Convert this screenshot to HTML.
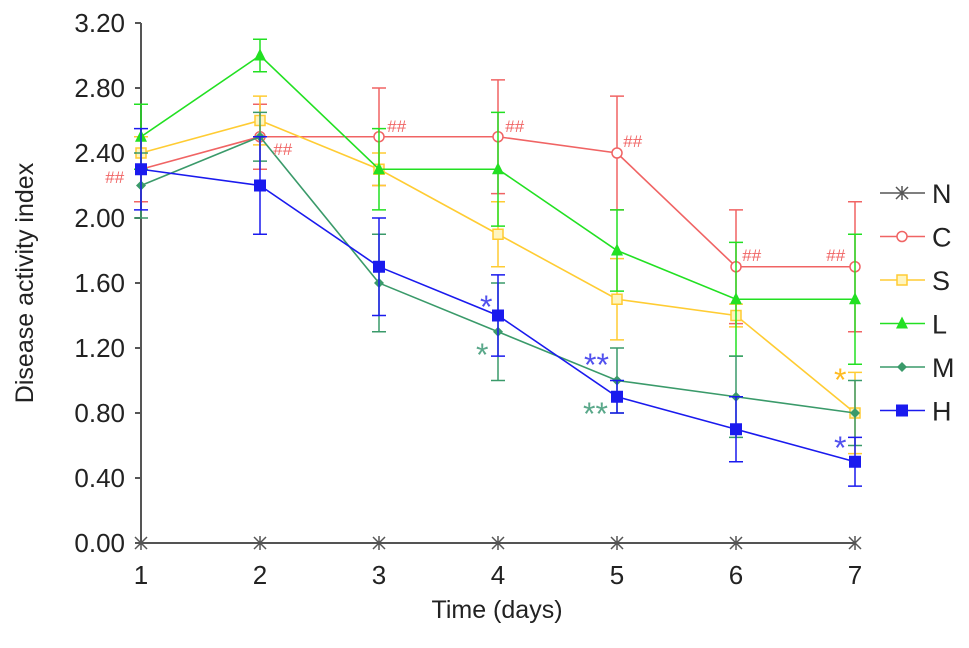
<!DOCTYPE html>
<html><head><meta charset="utf-8"><style>
body{margin:0;background:#fff;font-family:"Liberation Sans",sans-serif}
svg text{font-family:"Liberation Sans",sans-serif}
</style></head><body>
<svg id="chart" width="969" height="643" xmlns="http://www.w3.org/2000/svg"></svg>
<script>
const days = [1,2,3,4,5,6,7];
const yTicks = ["0.00","0.40","0.80","1.20","1.60","2.00","2.40","2.80","3.20"];
const valsN = [0,0,0,0,0,0,0];
const errN = [0,0,0,0,0,0,0];
const valsC = [2.3,2.5,2.5,2.5,2.4,1.7,1.7];
const errC = [0.2,0.2,0.3,0.35,0.35,0.35,0.4];
const valsS = [2.4,2.6,2.3,1.9,1.5,1.4,0.8];
const errS = [0.1,0.15,0.1,0.2,0.25,0.07,0.25];
const valsL = [2.5,3.0,2.3,2.3,1.8,1.5,1.5];
const errL = [0.2,0.1,0.25,0.35,0.25,0.35,0.4];
const valsM = [2.2,2.5,1.6,1.3,1.0,0.9,0.8];
const errM = [0.2,0.15,0.3,0.3,0.2,0.25,0.2];
const valsH = [2.3,2.2,1.7,1.4,0.9,0.7,0.5];
const errH = [0.25,0.3,0.3,0.25,0.1,0.2,0.15];

const NS="http://www.w3.org/2000/svg";
const svg=document.getElementById('chart');
const X0=141, XS=119, Y0=543, YS=162.5;
const xs=d=>X0+(d-1)*XS;
const ys=v=>Y0-v*YS;
function mk(tag,attrs,parent){const e=document.createElementNS(NS,tag);for(const k in attrs)e.setAttribute(k,attrs[k]);(parent||svg).appendChild(e);return e;}

let ax=mk('line',{x1:X0,y1:ys(3.2),x2:X0,y2:Y0,stroke:'#555','stroke-width':2});


let axx=mk('line',{x1:X0,y1:Y0,x2:xs(7),y2:Y0,stroke:'#555','stroke-width':2});


yTicks.forEach((t,i)=>{
  const v=parseFloat(t);
  let tk=mk('line',{x1:X0-6,y1:ys(v),x2:X0,y2:ys(v),stroke:'#555','stroke-width':2});
  
  
  let tx=mk('text',{x:125,y:ys(v)+9,'text-anchor':'end','font-size':26,fill:'#222'});
  tx.textContent=t;
  
  
});
days.forEach(d=>{
  let tx=mk('text',{x:xs(d),y:584,'text-anchor':'middle','font-size':26,fill:'#222'});
  tx.textContent=String(d);
  
  
});
let xt=mk('text',{x:497,y:618,'text-anchor':'middle','font-size':25,fill:'#222'});
xt.textContent='Time (days)';


let yt=mk('text',{x:0,y:0,'text-anchor':'middle','font-size':25,fill:'#222',transform:'translate(33,283) rotate(-90)'});
yt.textContent='Disease activity index';



const series=[
 {n:'N',v:valsN,e:errN,c:'#555',m:'x'},
 {n:'C',v:valsC,e:errC,c:'#f06464',m:'o'},
 {n:'S',v:valsS,e:errS,c:'#ffcc33',m:'s'},
 {n:'L',v:valsL,e:errL,c:'#22e022',m:'t'},
 {n:'M',v:valsM,e:errM,c:'#3a9a6a',m:'d'},
 {n:'H',v:valsH,e:errH,c:'#1a1aee',m:'q'}
];
function marker(m,x,y,c,g){
  if(m==='x'){mk('path',{d:`M${x-6} ${y-6}L${x+6} ${y+6}M${x-6} ${y+6}L${x+6} ${y-6}M${x} ${y-7}L${x} ${y+7}`,stroke:c,'stroke-width':1.5},g);}
  else if(m==='o'){mk('circle',{cx:x,cy:y,r:5,fill:'#fff',stroke:c,'stroke-width':1.5},g);}
  else if(m==='s'){mk('rect',{x:x-5,y:y-5,width:10,height:10,fill:'#fff5c0',stroke:c,'stroke-width':1.5},g);}
  else if(m==='t'){mk('path',{d:`M${x} ${y-7}L${x+6} ${y+5}L${x-6} ${y+5}Z`,fill:c},g);}
  else if(m==='d'){mk('path',{d:`M${x} ${y-5}L${x+5} ${y}L${x} ${y+5}L${x-5} ${y}Z`,fill:c},g);}
  else {mk('rect',{x:x-6,y:y-6,width:12,height:12,fill:c},g);}
}
series.forEach((s,si)=>{
  const g=mk('g',{});
  
  
  days.forEach((d,i)=>{
    if(s.e[i]>0){
      const x=xs(d),t=ys(s.v[i]+s.e[i]),b=ys(s.v[i]-s.e[i]);
      let eb=mk('path',{d:`M${x} ${t}L${x} ${b}M${x-7} ${t}L${x+7} ${t}M${x-7} ${b}L${x+7} ${b}`,stroke:s.c,'stroke-width':1.5,fill:'none'},g);
      
      
    }
  });
  const pts=days.map((d,i)=>xs(d)+','+ys(s.v[i])).join(' ');
  let pl=mk('polyline',{points:pts,fill:'none',stroke:s.c,'stroke-width':1.6},g);
  
  
  days.forEach((d,i)=>marker(s.m,xs(d),ys(s.v[i]),s.c,g));
  const ly=193+si*43.5;
  const lg=mk('g',{});
  
  
  mk('line',{x1:880,y1:ly,x2:925,y2:ly,stroke:s.c,'stroke-width':1.6},lg);
  marker(s.m,902,ly,s.c,lg);
  let lt=mk('text',{x:932,y:ly+10,'font-size':27,fill:'#222'},lg);
  lt.textContent=s.n;
});
const ann=[
 ['##',105,183,'#f06464'],['##',273,155,'#f06464'],['##',387,132,'#f06464'],['##',505,132,'#f06464'],
 ['##',623,147,'#f06464'],['##',742,261,'#f06464'],['##',826,261,'#f06464'],
 ['*',480,318,'#5050ee'],['*',476,366,'#5aa88a'],['**',584,376,'#5050ee'],['**',583,425,'#5aa88a'],
 ['*',834,391,'#ffbb22'],['*',834,459,'#5050ee']
];
ann.forEach(a=>{
  let t=mk('text',{x:a[1],y:a[2],'font-size':a[0]==='##'?17:32,fill:a[3],'font-style':a[0]==='##'?'italic':'normal'});
  t.textContent=a[0];
  
  
});
</script>
</body></html>
